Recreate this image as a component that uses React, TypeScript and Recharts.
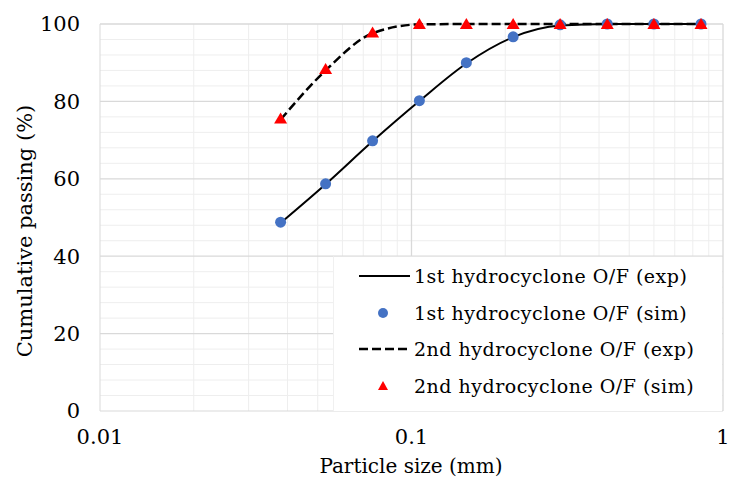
import React from "react";
import {
  ComposedChart,
  Line,
  Scatter,
  XAxis,
  YAxis,
  ReferenceLine,
  Label,
} from "recharts";

// particle sizes (mm), standard sieve series
const sizes = [0.038, 0.053, 0.075, 0.106, 0.15, 0.212, 0.3, 0.425, 0.6, 0.85];

// cumulative passing (%)
const firstExp = [48.6, 58.6, 69.7, 80.1, 89.8, 96.6, 99.6, 100, 100, 100];
const firstSim = [48.8, 58.7, 69.8, 80.2, 90.0, 96.7, 99.8, 100, 100, 100];
const secondExp = [75.3, 88.0, 97.6, 99.9, 100, 100, 100, 100, 100, 100];
const secondSim = [75.6, 88.4, 97.8, 100, 100, 100, 100, 100, 100, 100];

const xTicks = [0.01, 0.1, 1];
const yTicks = [0, 20, 40, 60, 80, 100];
const xMinor = [0.02, 0.03, 0.04, 0.05, 0.06, 0.07, 0.08, 0.09, 0.2, 0.3, 0.4, 0.5, 0.6, 0.7, 0.8, 0.9];
const yMinor = [4, 8, 12, 16, 24, 28, 32, 36, 44, 48, 52, 56, 64, 68, 72, 76, 84, 88, 92, 96];

const legendLabels = [
  "1st hydrocyclone O/F (exp)",
  "1st hydrocyclone O/F (sim)",
  "2nd hydrocyclone O/F (exp)",
  "2nd hydrocyclone O/F (sim)",
];

const FONT = "'DejaVu Serif', serif";
const BLUE = "#4472C4";
const RED = "#FF0000";

const toPoints = (ys: number[]) => sizes.map((x, i) => ({ x, y: ys[i] }));

function Triangle(props: any) {
  const { cx, cy } = props;
  if (cx == null || cy == null) return null;
  return <path d={`M${cx},${cy - 6} L${cx + 6.5},${cy + 5} L${cx - 6.5},${cy + 5} Z`} fill={RED} />;
}

function Dot(props: any) {
  const { cx, cy } = props;
  if (cx == null || cy == null) return null;
  return <circle cx={cx} cy={cy} r={5.5} fill={BLUE} />;
}

function LegendBox() {
  const icons = [
    <line x1={0} y1={8} x2={51} y2={8} stroke="#000" strokeWidth={2} />,
    <circle cx={24} cy={8} r={5} fill={BLUE} />,
    <line x1={0} y1={8} x2={51} y2={8} stroke="#000" strokeWidth={2.5} strokeDasharray="9 4" />,
    <path d="M24,3 L29,12 L19,12 Z" fill={RED} />,
  ];
  return (
    <div
      style={{
        position: "absolute",
        left: 333,
        top: 256,
        width: 389,
        height: 155,
        background: "#fff",
        borderTop: "1px solid #e6e6e6",
        borderLeft: "1px solid #f0f0f0",
        boxSizing: "border-box",
        fontFamily: FONT,
        fontSize: 19,
        letterSpacing: 0.5,
        color: "#000",
      }}
    >
      {legendLabels.map((label, i) => (
        <div
          key={label}
          style={{ position: "absolute", left: 25, top: 8 + i * 36.5, display: "flex", alignItems: "center", whiteSpace: "nowrap" }}
        >
          <svg width={52} height={16} style={{ marginRight: 3 }}>
            {icons[i]}
          </svg>
          <span>{label}</span>
        </div>
      ))}
    </div>
  );
}

export default function App() {
  return (
    <div style={{ position: "absolute", left: 0, top: 0, width: 731, height: 481, background: "#fff" }}>
      <ComposedChart width={731} height={481} margin={{ top: 24, right: 8, bottom: 0, left: 0 }}>
        <XAxis
          dataKey="x"
          type="number"
          scale="log"
          domain={[0.01, 1]}
          ticks={xTicks}
          allowDataOverflow
          axisLine={{ stroke: "#d9d9d9" }}
          tickLine={false}
          tickSize={0}
          tickMargin={18}
          height={70}
          tick={{ fontFamily: FONT, fontSize: 21, fill: "#000" }}
          tickFormatter={(v: number) => String(v)}
        >
          <Label
            content={() => (
              <text x={411} y={473} textAnchor="middle" fontFamily={FONT} fontSize={20} fill="#000">
                Particle size (mm)
              </text>
            )}
          />
        </XAxis>
        <YAxis
          dataKey="y"
          type="number"
          domain={[0, 100]}
          ticks={yTicks}
          axisLine={{ stroke: "#d9d9d9" }}
          tickLine={false}
          tickSize={0}
          tickMargin={20}
          width={100}
          tick={{ fontFamily: FONT, fontSize: 21, fill: "#000" }}
        >
          <Label
            content={() => (
              <text
                x={25}
                y={231}
                transform="rotate(-90 25 231)"
                textAnchor="middle"
                dominantBaseline="central"
                fontFamily={FONT}
                fontSize={21}
                fill="#000"
              >
                Cumulative passing (%)
              </text>
            )}
          />
        </YAxis>
        {xMinor.map((v) => (
          <ReferenceLine key={`xm${v}`} x={v} stroke="#eeeeee" strokeWidth={1} />
        ))}
        {yMinor.map((v) => (
          <ReferenceLine key={`ym${v}`} y={v} stroke="#eeeeee" strokeWidth={1} />
        ))}
        {xTicks.slice(1).map((v) => (
          <ReferenceLine key={`xM${v}`} x={v} stroke="#d9d9d9" strokeWidth={1.3} />
        ))}
        {yTicks.slice(1).map((v) => (
          <ReferenceLine key={`yM${v}`} y={v} stroke="#d9d9d9" strokeWidth={1.3} />
        ))}
        <Line
          data={toPoints(firstExp)}
          dataKey="y"
          type="monotone"
          stroke="#000"
          strokeWidth={2}
          dot={false}
          isAnimationActive={false}
        />
        <Line
          data={toPoints(secondExp)}
          dataKey="y"
          type="monotone"
          stroke="#000"
          strokeWidth={2.5}
          strokeDasharray="9 4"
          dot={false}
          isAnimationActive={false}
        />
        <Scatter data={toPoints(firstSim)} dataKey="y" shape={<Dot />} isAnimationActive={false} />
        <Scatter data={toPoints(secondSim)} dataKey="y" shape={<Triangle />} isAnimationActive={false} />
      </ComposedChart>
      <LegendBox />
    </div>
  );
}
